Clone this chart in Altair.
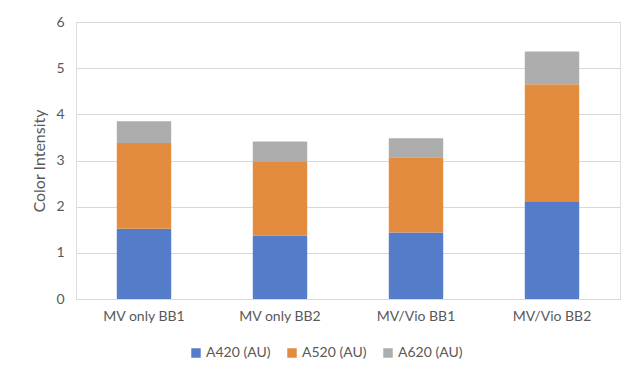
import altair as alt
import pandas as pd

categories = ["MV only BB1", "MV only BB2", "MV/Vio BB1", "MV/Vio BB2"]
series = ["A420 (AU)", "A520 (AU)", "A620 (AU)"]
a420 = [1.52, 1.37, 1.44, 2.12]
a520 = [1.86, 1.615, 1.63, 2.53]
a620 = [0.47, 0.425, 0.41, 0.71]
colors = ["#557CC8", "#E38B3E", "#ADADAD"]

rows = []
for vals, s, o in [(a420, series[0], 0), (a520, series[1], 1), (a620, series[2], 2)]:
    for c, v in zip(categories, vals):
        rows.append({"Category": c, "Series": s, "Value": v, "ord": o})
df = pd.DataFrame(rows)

font = "Lato"
chart = alt.Chart(df).mark_bar().encode(
    x=alt.X("Category:N", sort=categories,
            scale=alt.Scale(paddingInner=0.6, paddingOuter=0.3),
            axis=alt.Axis(title=None, labelAngle=0, ticks=False, domain=True,
                          domainColor="#D9D9D9", labelPadding=10, labelFontSize=14,
                          labelColor="#595959", labelFont=font)),
    y=alt.Y("Value:Q", stack="zero",
            scale=alt.Scale(domain=[0, 6], nice=False),
            axis=alt.Axis(title="Color Intensity", values=[0, 1, 2, 3, 4, 5, 6],
                          ticks=False, domain=False, grid=True, gridColor="#D9D9D9",
                          labelPadding=12, labelFontSize=14, labelColor="#595959",
                          labelFont=font, titleFont=font, titleFontSize=16,
                          titleFontWeight="normal", titleColor="#595959", titlePadding=8)),
    color=alt.Color("Series:N", sort=series,
                    scale=alt.Scale(domain=series, range=colors),
                    legend=alt.Legend(title=None, orient="none", direction="horizontal",
                                      legendX=113, legendY=324, symbolType="square",
                                      symbolSize=90, symbolStrokeWidth=0, labelFontSize=14,
                                      labelColor="#595959", labelFont=font, labelOffset=3,
                                      columnPadding=14)),
    order=alt.Order("ord:Q", sort="ascending"),
).properties(
    width=544, height=277,
    autosize=alt.AutoSizeParams(type="none"),
    padding={"left": 68, "top": 14, "right": 12, "bottom": 71},
).configure_view(stroke=None).configure(background="white")

chart.save("out.html", embed_options={"renderer": "svg", "actions": False})
